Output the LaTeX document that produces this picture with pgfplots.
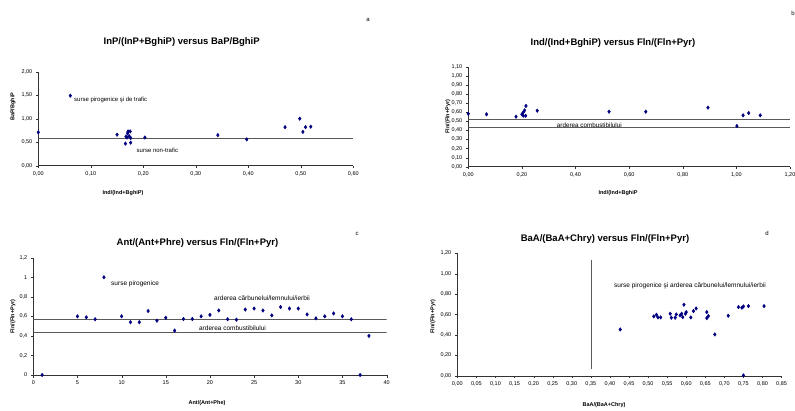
\documentclass[border=0pt]{standalone}
\usepackage{pgfplots}
\pgfplotsset{compat=1.18}
\usepackage{fontspec}
\setmainfont{Liberation Sans}
\definecolor{navy}{RGB}{0,0,128}
\pgfplotsset{
  panel/.style={
    scale only axis,
    axis lines=left,
    axis line style={-, black!80},
    tick align=outside,
    major tick length=2.5pt,
    tick style={black!80},
    tick label style={font=\fontsize{5.5}{6}\selectfont},
    /pgf/number format/assume math mode=true,
    /pgf/number format/.cd, fixed, fixed zerofill, precision=2, use comma,
  },
  pts/.style={only marks, mark=diamond*, mark size=1.8pt, navy},
  refl/.style={no marks, black!65, line width=0.5pt},
}
\begin{document}
\begin{tikzpicture}
\useasboundingbox (0,0) rectangle (795pt,410pt);

% ---- a ----
\begin{axis}[panel, at={(38.3pt,244.3pt)}, anchor=south west,
    width=315pt, height=94pt,
    xmin=0, xmax=0.6, ymin=0, ymax=2,
    xtick={0,0.1,...,0.6}, ytick={0,0.5,1,1.5,2}]
\addplot[refl] coordinates {(0,0.59) (0.6,0.59)};
\addplot[pts] coordinates {
  (0,0.71) (0.061,1.49) (0.150,0.66) (0.166,0.47) (0.167,0.62) (0.169,0.60)
  (0.170,0.69) (0.171,0.73) (0.173,0.63) (0.175,0.73) (0.176,0.49) (0.176,0.59)
  (0.203,0.60) (0.342,0.65) (0.397,0.56) (0.470,0.82) (0.498,1.00) (0.504,0.72)
  (0.509,0.82) (0.519,0.83)
};
\node[anchor=west, font=\fontsize{6}{7}\selectfont, inner sep=0pt] at (axis cs:0.068,1.40) {surse pirogenice şi de trafic};
\node[anchor=west, font=\fontsize{6}{7}\selectfont, inner sep=0pt] at (axis cs:0.187,0.33) {surse non-trafic};
\end{axis}
\node[font=\bfseries\fontsize{9.5}{11}\selectfont] at (181.7pt,368pt) {InP/(InP+BghiP) versus BaP/BghiP};
\node[font=\bfseries\fontsize{5.5}{6}\selectfont] at (123pt,216.7pt) {Ind/(Ind+BghiP)};
\node[font=\bfseries\fontsize{5.5}{6}\selectfont, rotate=90] at (13pt,303.3pt) {BaP/BghiP};
\node[font=\fontsize{6}{7}\selectfont] at (368pt,390pt) {a};

% ---- b ----
\begin{axis}[panel, at={(468.3pt,243.3pt)}, anchor=south west,
    width=321.7pt, height=100pt,
    xmin=0, xmax=1.2, ymin=0, ymax=1.1,
    xtick={0,0.2,...,1.2}, ytick={0,0.1,...,1.1}]
\addplot[refl] coordinates {(0,0.525) (1.2,0.525)};
\addplot[refl] coordinates {(0,0.433) (1.2,0.433)};
\addplot[pts] coordinates {
  (0,0.583) (0.068,0.576) (0.178,0.55) (0.200,0.576) (0.205,0.598) (0.205,0.561)
  (0.210,0.62) (0.214,0.56) (0.215,0.668) (0.257,0.616) (0.525,0.605) (0.662,0.605)
  (0.894,0.65) (1.002,0.447) (1.025,0.565) (1.046,0.59) (1.089,0.565)
};
\node[anchor=west, font=\fontsize{6.3}{7}\selectfont, inner sep=0pt] at (axis cs:0.33,0.455) {arderea combustibilului};
\end{axis}
\node[font=\bfseries\fontsize{9.5}{11}\selectfont] at (613pt,367pt) {Ind/(Ind+BghiP) versus Fln/(Fln+Pyr)};
\node[font=\bfseries\fontsize{5.5}{6}\selectfont] at (618pt,217pt) {Ind/(Ind+BghiP};
\node[font=\bfseries\fontsize{5.5}{6}\selectfont, rotate=90] at (448pt,293.3pt) {Fln/(Fln+Pyr)};
\node[font=\fontsize{6}{7}\selectfont] at (793pt,397pt) {b};

% ---- c ----
\begin{axis}[panel, at={(33.3pt,35pt)}, anchor=south west,
    width=353.3pt, height=117.3pt,
    xmin=0, xmax=40, ymin=0, ymax=1.2,
    xtick={0,5,...,40}, ytick={0,0.2,...,1.2},
    yticklabel style={/pgf/number format/.cd, fixed, fixed zerofill=false, precision=1, use comma},
    xticklabel style={/pgf/number format/.cd, fixed, fixed zerofill=false, precision=0}]
\addplot[refl] coordinates {(0,0.57) (40,0.57)};
\addplot[refl] coordinates {(0,0.437) (40,0.437)};
\addplot[pts] coordinates {
  (1,0) (5,0.60) (6,0.59) (7,0.57) (8,1.00) (10,0.60) (11,0.54) (12,0.54)
  (13,0.655) (14,0.556) (15,0.585) (16,0.454) (17,0.573) (18,0.573) (19,0.60)
  (20,0.615) (21,0.66) (22,0.57) (23,0.566) (24,0.67) (25,0.68) (26,0.66)
  (27,0.61) (28,0.695) (29,0.68) (30,0.68) (31,0.62) (32,0.58) (33,0.60)
  (34,0.63) (35,0.60) (36,0.57) (37,0) (38,0.40)
};
\node[anchor=west, font=\fontsize{6.5}{7}\selectfont, inner sep=0pt] at (axis cs:8.8,0.93) {surse pirogenice};
\node[anchor=west, font=\fontsize{6.5}{7}\selectfont, inner sep=0pt] at (axis cs:20.45,0.79) {arderea cărbunelui/lemnului/ierbii};
\node[anchor=west, font=\fontsize{6.5}{7}\selectfont, inner sep=0pt] at (axis cs:18.75,0.48) {arderea combustibilului};
\end{axis}
\node[font=\bfseries\fontsize{9.5}{11}\selectfont] at (197.5pt,166.7pt) {Ant/(Ant+Phre) versus Fln/(Fln+Pyr)};
\node[font=\bfseries\fontsize{5.5}{6}\selectfont] at (207pt,6.7pt) {Ant/(Ant+Phe)};
\node[font=\bfseries\fontsize{5.5}{6}\selectfont, rotate=90] at (13pt,93.3pt) {Fln/(Fln+Pyr)};
\node[font=\fontsize{6}{7}\selectfont] at (357pt,176pt) {c};

% ---- d ----
\begin{axis}[panel, at={(457.3pt,34.3pt)}, anchor=south west,
    width=324.3pt, height=122.3pt,
    xmin=0, xmax=0.85, ymin=0, ymax=1.2,
    xtick={0,0.05,...,0.86}, ytick={0,0.2,...,1.2}]
\addplot[refl] coordinates {(0.35,0.065) (0.35,1.135)};
\addplot[pts] coordinates {
  (0.427,0.454) (0.515,0.582) (0.522,0.598) (0.526,0.572) (0.533,0.572)
  (0.558,0.608) (0.561,0.569) (0.571,0.569) (0.574,0.601) (0.584,0.592)
  (0.588,0.608) (0.591,0.575) (0.594,0.696) (0.598,0.608) (0.600,0.624)
  (0.612,0.572) (0.619,0.634) (0.626,0.660) (0.654,0.624) (0.654,0.565)
  (0.658,0.585) (0.675,0.405) (0.710,0.588) (0.737,0.673) (0.746,0.667)
  (0.750,0.680) (0.763,0.683) (0.804,0.683) (0.750,0.003)
};
\node[font=\fontsize{6.5}{7}\selectfont, inner sep=0pt] at (axis cs:0.61,0.88) {surse pirogenice şi arderea cărbunelui/lemnului/ierbii};
\end{axis}
\node[font=\bfseries\fontsize{9.5}{11}\selectfont] at (605pt,170.7pt) {BaA/(BaA+Chry) versus Fln/(Fln+Pyr)};
\node[font=\bfseries\fontsize{5.5}{6}\selectfont] at (604pt,5pt) {BaA/(BaA+Chry)};
\node[font=\bfseries\fontsize{5.5}{6}\selectfont, rotate=90] at (433pt,93.3pt) {Fln/(Fln+Pyr)};
\node[font=\fontsize{6}{7}\selectfont] at (767pt,177pt) {d};
\end{tikzpicture}
\end{document}
